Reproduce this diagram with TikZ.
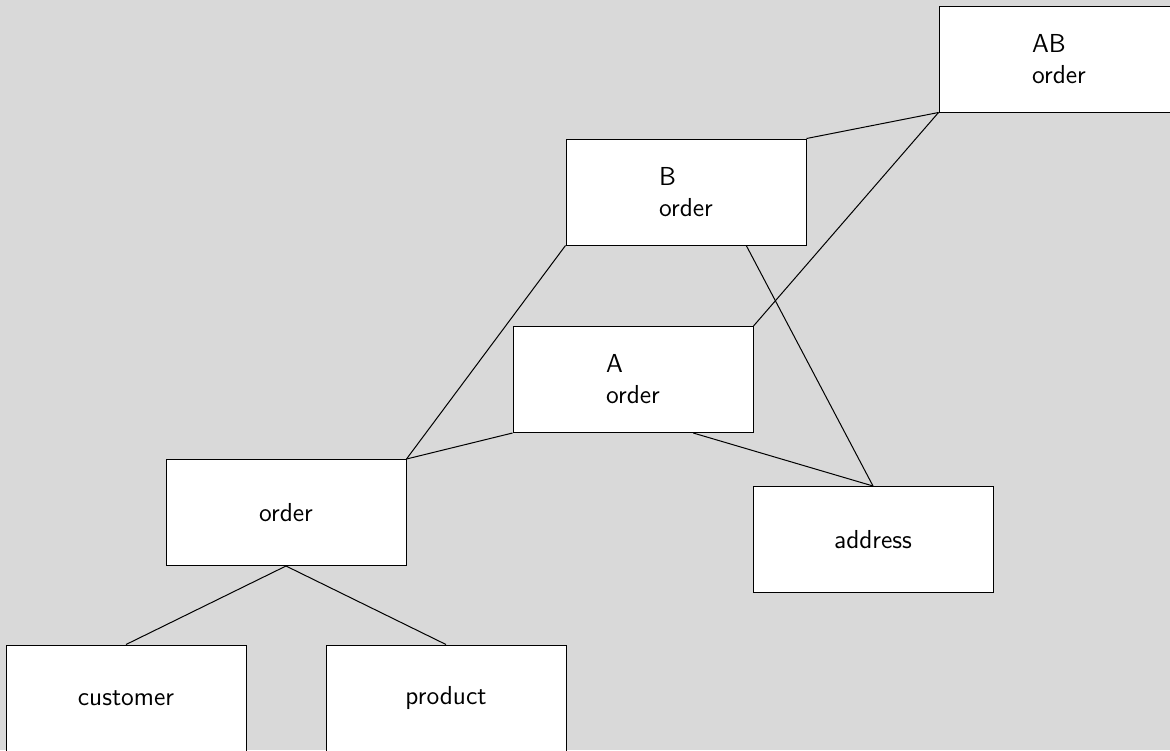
\documentclass[tikz,border=0pt]{standalone}
\usetikzlibrary{shapes,arrows,calc}
\definecolor{bggray}{RGB}{217,217,217}
\tikzstyle{block} = [rectangle, draw, fill=white, line width=0.5pt,
minimum width=120pt, minimum height=53pt, inner sep=0pt, align=left,
font=\sffamily\fontsize{13}{15.5}\selectfont]
\tikzstyle{line} = [draw, line width=0.5pt]

\begin{document}
\begin{tikzpicture}[x=0.5pt, y=-0.5pt]
% Background
\fill [bggray] (0,0) rectangle (1170,750);
\useasboundingbox (0,0) rectangle (1170,750);
% Place nodes
\node [block] (ab) at (1059,59) {AB\\order};
\node [block] (b) at (686,192) {B\\order};
\node [block] (a) at (633,379.5) {A\\order};
\node [block] (order) at (286,512.5) {order};
\node [block] (address) at (873,539.5) {address};
\node [block] (customer) at (126,698) {customer};
\node [block] (product) at (446,698) {product};
% Draw lines
\path [line] (b.north east) -- (ab.south west);
\path [line] (ab.south west) -- (a.north east);
\path [line] (b.south west) -- (order.north east);
\path [line] (a.south west) -- (order.north east);
\path [line] ($(b.south)!0.5!(b.south east)$) -- (address.north);
\path [line] ($(a.south)!0.5!(a.south east)$) -- (address.north);
\path [line] (order.south) -- (customer.north);
\path [line] (order.south) -- (product.north);
\end{tikzpicture}
\end{document}
